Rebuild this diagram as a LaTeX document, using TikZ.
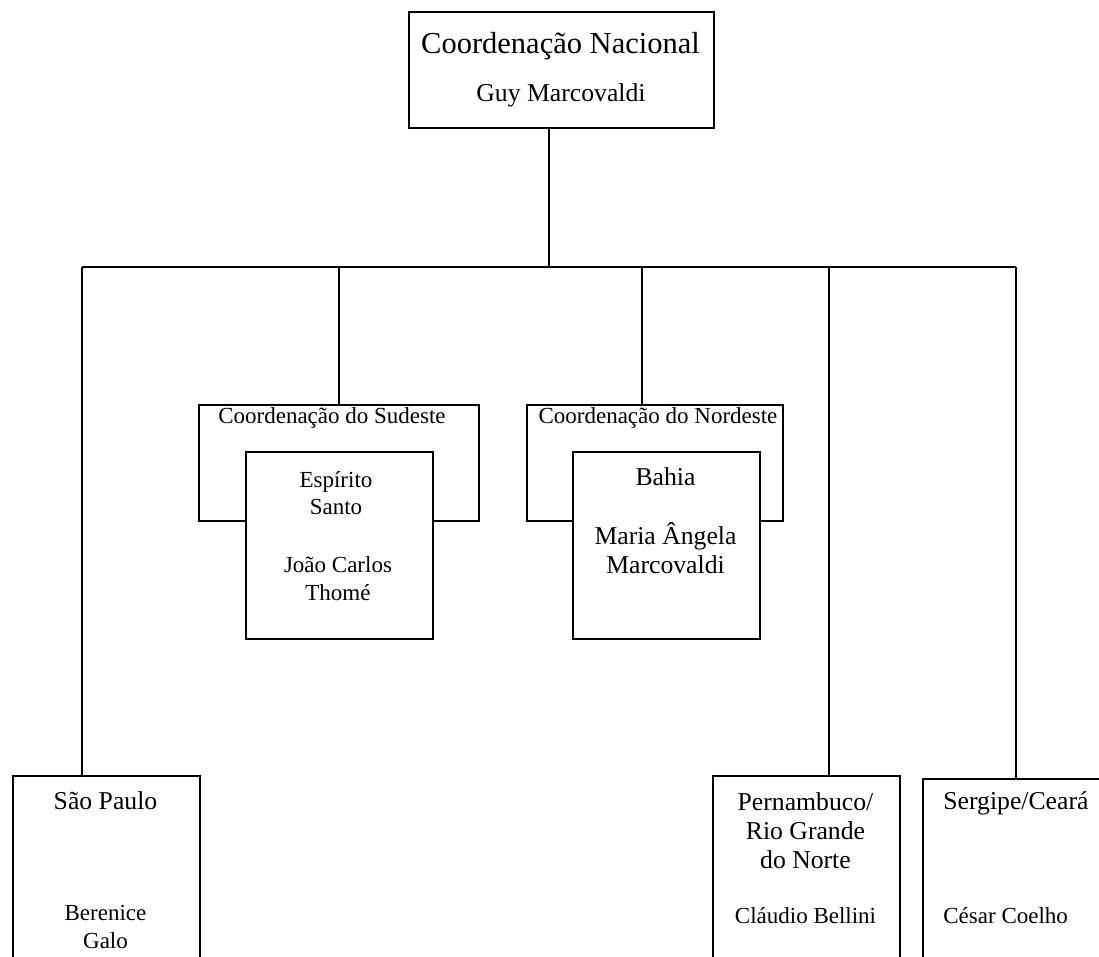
\documentclass[tikz,border=0pt]{standalone}
\usepackage{fontspec}
\setmainfont{Liberation Serif}
\begin{document}
\begin{tikzpicture}[x=.5pt,y=-.5pt,
                    line/.style={line width=.9pt},
                    unit/.style={draw,line width=.9pt,fill=white,inner sep=0pt,anchor=north west},
                    bigtext/.style={font=\fontsize{15.25}{18}\selectfont,inner sep=0pt,anchor=base},
                    heading/.style={font=\fontsize{12.85}{14.5}\selectfont,align=center,inner sep=0pt,anchor=base},
                    person/.style={font=\fontsize{11.5}{13.8}\selectfont,align=center,inner sep=0pt,anchor=base}]
 \useasboundingbox (0,0) rectangle (1099,957);
 \clip (0,0) rectangle (1099,957);
 % junctions on the bus
 \coordinate (jsp) at (82,267);  \coordinate (jsud) at (339,267);
 \coordinate (jnac) at (549,267); \coordinate (jnor) at (642,267);
 \coordinate (jpe) at (829,267);  \coordinate (jse) at (1016,267);
 % boxes
 \node[unit,minimum width=152.5pt,minimum height=58pt] (nac) at (408,11) {};
 \node[unit,minimum width=140pt,minimum height=58pt] (sud) at (198,404) {};
 \node[unit,minimum width=128pt,minimum height=58pt] (nor) at (526,404) {};
 \node[unit,minimum width=93.5pt,minimum height=93.5pt] (es) at (245,451) {};
 \node[unit,minimum width=93.5pt,minimum height=93.5pt] (ba) at (572,451) {};
 \node[unit,minimum width=93.5pt,minimum height=125pt] (sp) at (12,775) {};
 \node[unit,minimum width=93.5pt,minimum height=125pt] (pe) at (712,775) {};
 \node[unit,minimum width=93.5pt,minimum height=125pt] (se) at (922,778) {};
 % connectors
 \draw[line] (jnac |- nac.south) -- (jnac);
 \draw[line] (jsp) -- (jse);
 \draw[line] (jsp) -- (jsp |- sp.north);
 \draw[line] (jsud) -- (jsud |- sud.north);
 \draw[line] (jnor) -- (jnor |- nor.north);
 \draw[line] (jpe) -- (jpe |- pe.north);
 \draw[line] (jse) -- (jse |- se.north);
 % texts (multi-line nodes sit on their last line)
 \node[bigtext] (nacT) at (560.5,54) {Coordenação Nacional};
 \node[heading] (nacN) at (561,102) {Guy Marcovaldi};
 \node[person] (sudT) at (332,424) {Coordenação do Sudeste};
 \node[person] (esT) at (336,515) {Espírito\\Santo};
 \node[person] (esN) at (338,600) {João Carlos\\Thomé};
 \node[person] (norT) at (658,424) {Coordenação do Nordeste};
 \node[heading] (baT) at (665.5,486) {Bahia};
 \node[heading] (baN) at (665.5,574) {Maria Ângela\\Marcovaldi};
 \node[heading] (spT) at (105.5,809) {São Paulo};
 \node[person] (spN) at (105.5,948) {Berenice\\Galo};
 \node[heading] (peT) at (805.5,868) {Pernambuco/\\Rio Grande\\do Norte};
 \node[person] (peN) at (805.5,923) {Cláudio Bellini};
 \node[heading,anchor=base west] (seT) at (943,809) {Sergipe/Ceará};
 \node[person,anchor=base west] (seN) at (943,923) {César Coelho};
\end{tikzpicture}
\end{document}
